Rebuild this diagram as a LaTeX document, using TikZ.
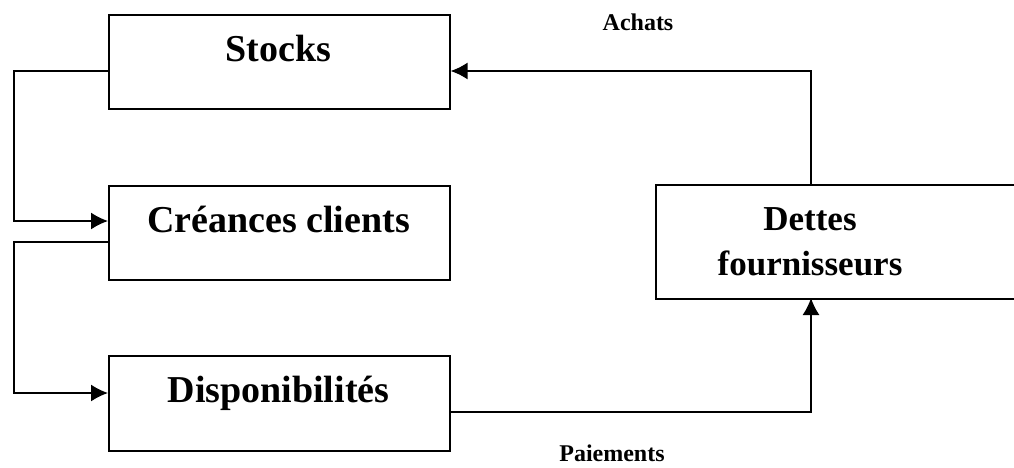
\documentclass[tikz,border=0pt]{standalone}
\usepackage{fontspec}
\setmainfont{Liberation Serif}
\usetikzlibrary{arrows.meta,calc}
\begin{document}
\begin{tikzpicture}[x=1pt,y=-1pt,
  boxst/.style={draw,line width=1.6pt,rectangle,inner sep=0pt,anchor=north west},
  bigtxt/.style={font=\fontsize{38}{44}\selectfont\bfseries,inner sep=0pt,anchor=base},
  smalltxt/.style={font=\fontsize{24}{28}\selectfont\bfseries,inner sep=0pt,anchor=base},
  conn/.style={line width=1.6pt,-{Latex[length=17pt,width=17pt]}},
  plain/.style={line width=1.6pt}]
\useasboundingbox (0,0) rectangle (1014,468);
\clip (0,0) rectangle (1014,468);
% boxes
\node[boxst,minimum width=341pt,minimum height=94pt] (stocks) at (108,14) {};
\node[boxst,minimum width=341pt,minimum height=94pt] (creances) at (108,185) {};
\node[boxst,minimum width=341pt,minimum height=95pt] (dispo) at (108,355) {};
\node[boxst,minimum width=370pt,minimum height=114pt] (dettes) at (655,184) {};
% texts
\node[bigtxt] (tstocks) at (278.5,62) {Stocks};
\node[bigtxt] (tcreances) at (278.5,232) {Créances clients};
\node[bigtxt] (tdispo) at (278.5,402) {Disponibilités};
\node[font=\fontsize{35}{45}\selectfont\bfseries,inner sep=0pt,anchor=base] (tdettes) at (810,230) {Dettes};
\node[font=\fontsize{35}{45}\selectfont\bfseries,inner sep=0pt,anchor=base] (tfour) at (810,275) {fournisseurs};
\node[smalltxt] (achats) at (638,31) {Achats};
\node[smalltxt] (paiements) at (612,461) {Paiements};
% coordinates
\coordinate (dtop) at (811,184);
\coordinate (dbot) at (811,298);
% connectors
\draw[conn] (dtop) |- ($(stocks.north east)+(0,57)$);
\draw[conn] ($(dispo.north east)+(0,57)$) -| (dbot);
\draw[conn] ($(stocks.north west)+(0,57)$) -- (14,71) |- ($(creances.north west)+(0,36)$);
\draw[conn] ($(creances.north west)+(0,57)$) -- (14,242) |- ($(dispo.north west)+(0,38)$);
\end{tikzpicture}
\end{document}
